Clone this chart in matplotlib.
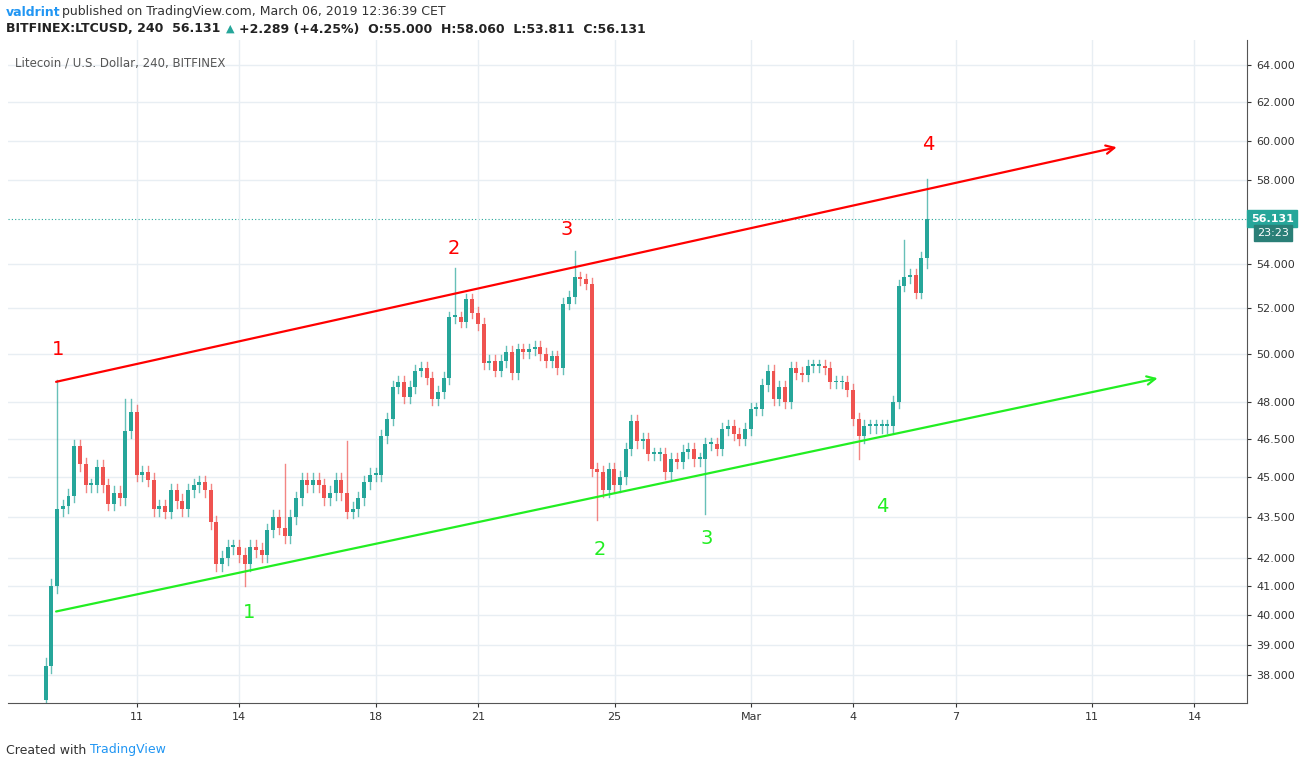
import matplotlib
matplotlib.use("Agg")
import matplotlib.pyplot as plt
from matplotlib.ticker import FixedLocator, NullLocator

closes = [38.3,41.0,43.8,43.9,44.3,46.2,45.5,44.7,44.7,45.4,44.7,44.0,44.4,44.2,46.8,
          47.6,45.1,45.2,44.9,43.8,43.9,43.7,44.5,44.1,43.8,44.5,44.7,44.8,44.5,43.3,
          41.8,42.0,42.4,42.4,42.1,41.8,42.4,42.3,42.1,43.0,43.5,43.1,42.8,43.5,44.2,
          44.9,44.7,44.9,44.7,44.2,44.4,44.9,44.4,43.7,43.8,44.2,44.8,45.1,45.1,
          46.6,47.3,48.6,48.8,48.2,48.6,49.3,49.4,49.0,48.1,48.4,49.0,51.6,51.6,51.4,
          52.4,51.8,51.3,49.6,49.7,49.3,49.7,50.1,49.2,50.2,50.1,50.2,50.3,50.0,49.7,
          49.9,49.4,52.2,52.5,53.4,53.3,53.1,45.3,45.2,44.5,45.3,44.7,45.0,46.1,47.2,
          46.4,46.5,45.9,45.9,45.9,45.2,45.7,45.6,46.0,46.1,45.7,45.7,46.3,46.3,46.1,
          46.9,47.0,46.7,46.5,46.9,47.7,47.7,48.7,49.3,48.1,48.6,48.0,49.4,49.2,
          49.1,49.5,49.5,49.5,49.4,48.8,48.8,48.8,48.5,47.3,46.6,47.0,47.0,47.0,47.0,
          47.0,48.0,53.0,53.4,53.5,52.7,54.3,56.131]
first_open = 37.2
high_over = {2: 48.9, 14: 48.1, 15: 48.1, 42: 45.5, 53: 46.4, 72: 53.8, 93: 54.6,
             151: 55.1, 155: 58.06}
low_over = {0: 36.8, 35: 41.0, 97: 43.4, 116: 43.6, 143: 45.7, 155: 53.8}
last_day = 34.16   # day index (Feb 1 = 1, Mar 1 = 29)

red_line = [(8.55, 48.8), (39.8, 59.7)]
green_line = [(8.55, 40.1), (41.0, 49.0)]
red_labels = [("1", 8.68, 50.2), ("2", 20.3, 54.7), ("3", 23.6, 55.6), ("4", 34.2, 59.8)]
green_labels = [("1", 14.3, 40.1), ("2", 24.57, 42.3), ("3", 27.7, 42.7), ("4", 32.84, 43.9)]

yticks = [38, 39, 40, 41, 42, 43.5, 45, 46.5, 48, 50, 52, 54, 58, 60, 62, 64]
xticks = [11, 14, 18, 21, 25, 29, 32, 35, 39, 42]
xlabels = ["11", "14", "18", "21", "25", "Mar", "4", "7", "11", "14"]

GREEN = "#26a69a"; RED = "#ef5350"

fig = plt.figure(figsize=(13.04, 7.68), dpi=100)
ax = fig.add_axes([8/1304, 65/768, 1239/1304, 663/768])
n = len(closes)
step = 1/6
for i, c in enumerate(closes):
    o = first_open if i == 0 else closes[i-1]
    x = last_day - (n-1-i)*step
    hi = high_over.get(i, max(o, c) + 0.25)
    lo = low_over.get(i, min(o, c) - 0.25)
    col = GREEN if c >= o else RED
    ax.plot([x, x], [lo, hi], color=col, lw=1, alpha=0.7, zorder=2)
    bot, top = min(o, c), max(o, c)
    if top - bot < 0.08:
        top = bot + 0.08
    ax.bar(x, top-bot, bottom=bot, width=step*0.7, color=col, zorder=3, linewidth=0)

ax.set_yscale("log")
ax.set_ylim(37.1, 65.4)
ax.set_xlim(7.22, 43.54)
ax.yaxis.set_major_locator(FixedLocator(yticks))
ax.yaxis.set_minor_locator(NullLocator())
ax.set_yticklabels([f"{v:.3f}" for v in yticks])
ax.yaxis.tick_right()
ax.set_xticks(xticks)
ax.set_xticklabels(xlabels)
ax.tick_params(labelsize=8, colors="#333333", length=3)
ax.grid(color="#e8eef3", lw=1, zorder=0)
for s in ["top", "left"]:
    ax.spines[s].set_visible(False)
ax.spines["right"].set_color("#555555")
ax.spines["bottom"].set_color("#555555")

ax.annotate("", xy=red_line[1], xytext=red_line[0],
            arrowprops=dict(arrowstyle="->", color="red", lw=1.6, mutation_scale=15), zorder=5)
ax.annotate("", xy=green_line[1], xytext=green_line[0],
            arrowprops=dict(arrowstyle="->", color="#22ee22", lw=1.6, mutation_scale=15), zorder=5)
for t, x, y in red_labels:
    ax.text(x, y, t, color="red", fontsize=14, ha="center", va="center")
for t, x, y in green_labels:
    ax.text(x, y, t, color="#22ee22", fontsize=14, ha="center", va="center")

last = closes[-1]
ax.axhline(last, color=GREEN, lw=0.8, ls=(0, (1, 2)), zorder=1)
ax.text(1.003, last, f"{last:.3f}", transform=ax.get_yaxis_transform(), fontsize=8,
        color="white", fontweight="bold", va="center", ha="left",
        bbox=dict(boxstyle="square,pad=0.3", fc=GREEN, ec=GREEN))
ax.text(1.008, 55.45, "23:23", transform=ax.get_yaxis_transform(), fontsize=8,
        color="white", va="center", ha="left",
        bbox=dict(boxstyle="square,pad=0.3", fc="#2a7f77", ec="#2a7f77"))

ax.text(0.006, 0.975, "Litecoin / U.S. Dollar, 240, BITFINEX", transform=ax.transAxes,
        fontsize=8.5, color="#555555", va="top")
fig.text(6/1304, 1-12/768, "valdrint", color="#2196f3", fontsize=9, fontweight="bold", va="center")
fig.text(62/1304, 1-12/768, "published on TradingView.com, March 06, 2019 12:36:39 CET",
         color="#333333", fontsize=9, va="center")
fig.text(6/1304, 1-29/768, "BITFINEX:LTCUSD, 240  56.131", color="#222222", fontsize=9,
         fontweight="bold", va="center")
fig.text(226/1304, 1-29/768, "▲", color=GREEN, fontsize=8, va="center")
fig.text(239/1304, 1-29/768, "+2.289 (+4.25%)  O:55.000  H:58.060  L:53.811  C:56.131",
         color="#222222", fontsize=9, fontweight="bold", va="center")
fig.text(6/1304, 1-750/768, "Created with", color="#333333", fontsize=9, va="center")
fig.text(90/1304, 1-750/768, "TradingView", color="#2196f3", fontsize=9, va="center")
fig.savefig("out.png", dpi=100)
